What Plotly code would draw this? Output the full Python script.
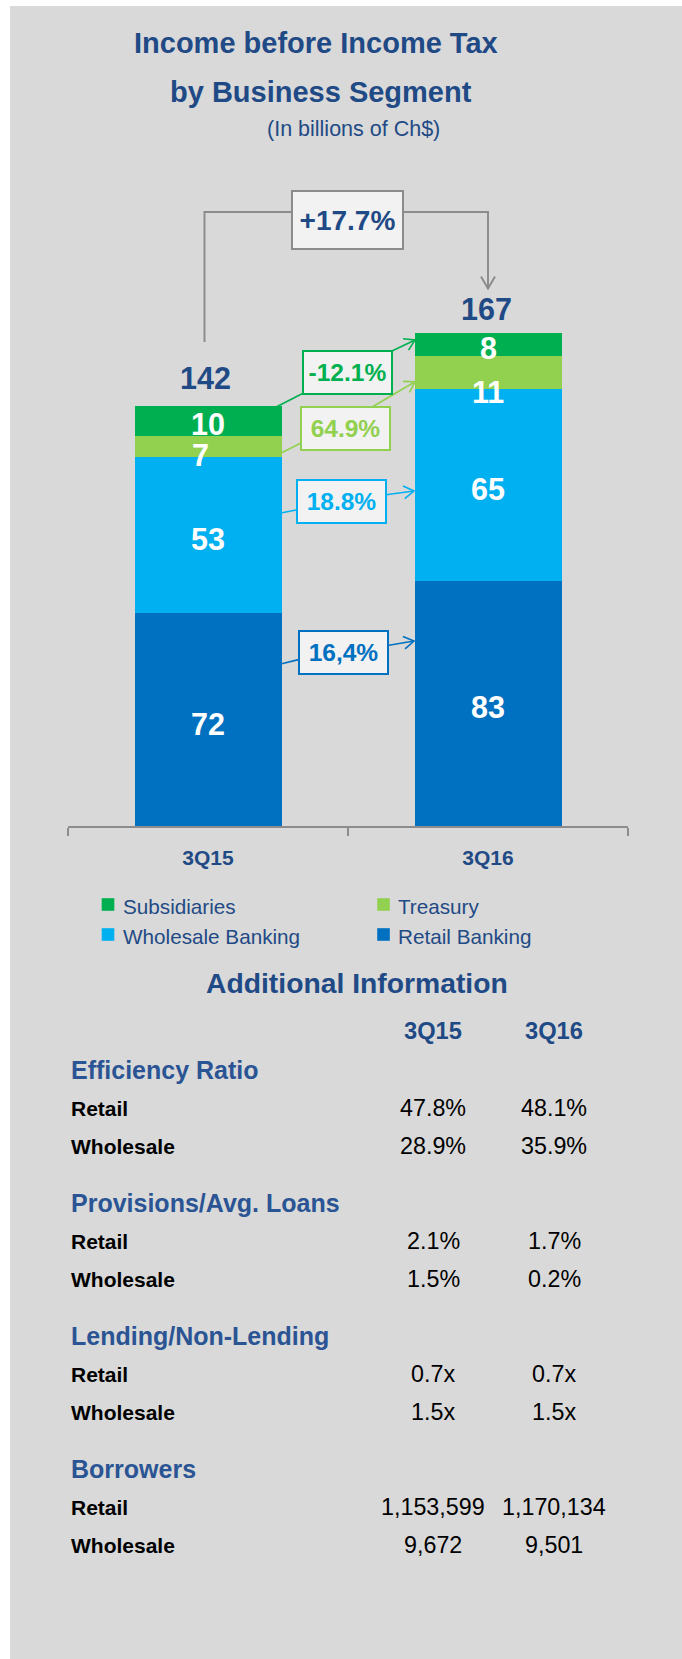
import math
import plotly.graph_objects as go

# ---------------- data ----------------
categories = ["3Q15", "3Q16"]
segment_names = ["Retail Banking", "Wholesale Banking", "Treasury", "Subsidiaries"]
retail_banking = [72, 83]
wholesale_banking = [53, 65]
treasury = [7, 11]
subsidiaries = [10, 8]
totals = [142, 167]
total_change = "+17.7%"
segment_changes = ["16,4%", "18.8%", "64.9%", "-12.1%"]  # same order as segment_names
legend_order = ["Subsidiaries", "Treasury", "Wholesale Banking", "Retail Banking"]

table_periods = ["3Q15", "3Q16"]
table_sections = ["Efficiency Ratio", "Provisions/Avg. Loans", "Lending/Non-Lending", "Borrowers"]
table_row_labels = ["Retail", "Wholesale"]
efficiency_ratio = [["47.8%", "48.1%"], ["28.9%", "35.9%"]]
provisions_avg_loans = [["2.1%", "1.7%"], ["1.5%", "0.2%"]]
lending_non_lending = [["0.7x", "0.7x"], ["1.5x", "1.5x"]]
borrowers = [["1,153,599", "1,170,134"], ["9,672", "9,501"]]

# ---------------- style ----------------
colors = {
    "Retail Banking": "#0070C0",
    "Wholesale Banking": "#00B0F0",
    "Treasury": "#92D050",
    "Subsidiaries": "#00B050",
}
NAVY = "#1F4A85"
HEAD = "#2A5494"
GRAY_BG = "#D9D9D9"
LINE_GRAY = "#8C8C8C"
FONT = "Liberation Sans, Arial, Helvetica, sans-serif"

W, H = 682, 1659
OX, OY = 0, 0  # body margin removed via post_script


def px(sx):
    return (sx - OX) / W


def py(sy):
    return 1 - (sy - OY) / H


BASE = 826      # screen y of baseline
PPU = 2.955     # pixels per unit
YMAX = 200
X_LEFT, X_RIGHT = 68, 628

series = [retail_banking, wholesale_banking, treasury, subsidiaries]

fig = go.Figure()
for name, vals in zip(segment_names, series):
    fig.add_trace(go.Bar(
        x=categories, y=vals, name=name,
        marker=dict(color=colors[name], line=dict(width=0)),
        width=0.525, showlegend=False, hoverinfo="x+y+name",
    ))

annotations = []
shapes = []

# white page border (left and top)
shapes.append(dict(type="rect", xref="paper", yref="paper", x0=0, x1=px(10),
                   y0=0, y1=1, fillcolor="white", line=dict(width=0), layer="below"))
shapes.append(dict(type="rect", xref="paper", yref="paper", x0=0, x1=1,
                   y0=py(6), y1=1, fillcolor="white", line=dict(width=0), layer="below"))

# titles
annotations.append(dict(text="Income before Income Tax", x=px(316), y=py(43), xref="paper", yref="paper",
                        showarrow=False, xanchor="center", yanchor="middle",
                        font=dict(family=FONT, size=29, color=NAVY, weight="bold")))
annotations.append(dict(text="by Business Segment", x=px(320.5), y=py(92), xref="paper", yref="paper",
                        showarrow=False, xanchor="center", yanchor="middle",
                        font=dict(family=FONT, size=29, color=NAVY, weight="bold")))
annotations.append(dict(text="(In billions of Ch$)", x=px(353), y=py(129), xref="paper", yref="paper",
                        showarrow=False, xanchor="center", yanchor="middle",
                        font=dict(family=FONT, size=21.5, color=NAVY)))

# segment value labels (inside bars)
label_shift = {("Treasury", 0): (-8, -9), ("Treasury", 1): (0, -20), ("Subsidiaries", 0): (0, -3)}
cum = [0, 0]
for name, vals in zip(segment_names, series):
    for i, v in enumerate(vals):
        mid = cum[i] + v / 2
        dx, dy = label_shift.get((name, i), (0, -4))
        annotations.append(dict(text=str(v), x=categories[i], y=mid, xref="x", yref="y",
                                showarrow=False, xanchor="center", yanchor="middle",
                                xshift=dx, yshift=dy,
                                font=dict(family=FONT, size=30.5, color="white", weight="bold")))
        cum[i] += v

# totals above bars
total_shift = [(-2.5, 28), (-1.5, 23.5)]
for i, t in enumerate(totals):
    annotations.append(dict(text=str(t), x=categories[i], y=t, xref="x", yref="y",
                            showarrow=False, xanchor="center", yanchor="middle",
                            xshift=total_shift[i][0], yshift=total_shift[i][1],
                            font=dict(family=FONT, size=30.5, color=NAVY, weight="bold")))

# total change box + connector
annotations.append(dict(text=total_change, x=px(347.3), y=py(220), xref="paper", yref="paper",
                        showarrow=False, xanchor="center", yanchor="middle",
                        width=109, height=56, borderpad=0, borderwidth=2,
                        bordercolor=LINE_GRAY, bgcolor="#F2F2F2",
                        font=dict(family=FONT, size=28, color=NAVY, weight="bold")))


def path_of(points):
    return "M " + " L ".join(f"{px(a):.6f},{py(b):.6f}" for a, b in points)


def chevron(tip, frm, length=11, half_angle=32):
    tx, ty = tip
    dx, dy = tx - frm[0], ty - frm[1]
    n = math.hypot(dx, dy)
    ux, uy = dx / n, dy / n
    pts = []
    for s in (1, -1):
        a = math.radians(half_angle) * s
        rx = ux * math.cos(a) - uy * math.sin(a)
        ry = ux * math.sin(a) + uy * math.cos(a)
        pts.append((tx - rx * length, ty - ry * length))
    return [pts[0], (tx, ty), pts[1]]


def open_path(points, color, width):
    shapes.append(dict(type="path", xref="paper", yref="paper", path=path_of(points),
                       line=dict(color=color, width=width), fillcolor="rgba(0,0,0,0)", layer="above"))


open_path([(204.5, 342), (204.5, 212), (292, 212)], LINE_GRAY, 2)
open_path([(403, 212), (488, 212), (488, 288)], LINE_GRAY, 2)
open_path(chevron((488, 288.5), (488, 212), length=14, half_angle=30), LINE_GRAY, 2)

# segment change boxes and connectors
box_geom = {
    "Subsidiaries": dict(c=(347.2, 372.5), a=((272.3, 409), (303, 393.3)), b=((392.5, 350.8), (415, 340))),
    "Treasury": dict(c=(345.7, 429), a=((280.7, 453.3), (300.5, 443.3)), b=((373, 406.5), (415, 381.7))),
    "Wholesale Banking": dict(c=(341.5, 501.3), a=((280.7, 513), (297.5, 509.8)), b=((386, 494.7), (414, 491))),
    "Retail Banking": dict(c=(343, 652.2), a=((280.7, 664), (298.5, 659.6)), b=((387.5, 645.5), (414, 641))),
}
for name, chg in zip(segment_names, segment_changes):
    g = box_geom[name]
    col = colors[name]
    open_path(list(g["a"]), col, 1.6)
    open_path(list(g["b"]), col, 1.6)
    open_path(chevron(g["b"][1], g["b"][0], length=12, half_angle=32), col, 1.6)
    annotations.append(dict(text=chg, x=px(g["c"][0]), y=py(g["c"][1]), xref="paper", yref="paper",
                            showarrow=False, xanchor="center", yanchor="middle",
                            width=87, height=41, borderpad=0, borderwidth=2,
                            bordercolor=col, bgcolor="#F2F2F2",
                            font=dict(family=FONT, size=24.5, color=col, weight="bold")))

# legend (manual, 2 x 2)
legend_pos = [(108, 904.5), (383.5, 904.5), (108, 934.5), (383.5, 934.5)]
for name, (cx, cy) in zip(legend_order, legend_pos):
    s = 6.3
    shapes.append(dict(type="rect", xref="paper", yref="paper",
                       x0=px(cx - s), x1=px(cx + s), y0=py(cy + s), y1=py(cy - s),
                       fillcolor=colors[name], line=dict(width=0)))
    annotations.append(dict(text=name, x=px(cx + 12.5), y=py(cy + 1.5), xref="paper", yref="paper",
                            showarrow=False, xanchor="left", yanchor="middle",
                            font=dict(family=FONT, size=20.7, color=NAVY)))

# additional information table
annotations.append(dict(text="Additional Information", x=px(356.5), y=py(983), xref="paper", yref="paper",
                        showarrow=False, xanchor="center", yanchor="middle",
                        font=dict(family=FONT, size=28.3, color=NAVY, weight="bold")))
col_x = [433, 554]
for p, cx in zip(table_periods, col_x):
    annotations.append(dict(text=p, x=px(cx), y=py(1031), xref="paper", yref="paper",
                            showarrow=False, xanchor="center", yanchor="middle",
                            font=dict(family=FONT, size=23.7, color=NAVY, weight="bold")))

section_values = [efficiency_ratio, provisions_avg_loans, lending_non_lending, borrowers]
for k, (sec, vals) in enumerate(zip(table_sections, section_values)):
    y0 = 1070 + k * 133
    annotations.append(dict(text=sec, x=px(68.5), y=py(y0), xref="paper", yref="paper",
                            showarrow=False, xanchor="left", yanchor="middle",
                            font=dict(family=FONT, size=25, color=HEAD, weight="bold")))
    for r, lab in enumerate(table_row_labels):
        yr = y0 + 38 + r * 38
        annotations.append(dict(text=lab, x=px(68.5), y=py(yr), xref="paper", yref="paper",
                                showarrow=False, xanchor="left", yanchor="middle",
                                font=dict(family=FONT, size=21, color="black", weight="bold")))
        for c, cx in enumerate(col_x):
            annotations.append(dict(text=vals[r][c], x=px(cx), y=py(yr), xref="paper", yref="paper",
                                    showarrow=False, xanchor="center", yanchor="middle",
                                    font=dict(family=FONT, size=23.3, color="black")))

fig.update_layout(
    width=W, height=H,
    margin=dict(l=0, r=0, t=0, b=0, pad=0, autoexpand=False),
    paper_bgcolor=GRAY_BG, plot_bgcolor="rgba(0,0,0,0)",
    barmode="stack", bargap=0,
    showlegend=False,
    xaxis=dict(domain=[px(X_LEFT), px(X_RIGHT)], range=[-0.5, 1.5], type="category",
               showline=True, linecolor=LINE_GRAY, linewidth=1.5,
               ticks="outside", tickson="boundaries", ticklen=8, tickwidth=1.5, tickcolor=LINE_GRAY,
               showgrid=False, zeroline=False, ticklabelstandoff=12,
               tickfont=dict(family=FONT, size=21, color=NAVY, weight="bold"), fixedrange=True),
    yaxis=dict(domain=[py(BASE), py(BASE - YMAX * PPU)], range=[0, YMAX], visible=False,
               showgrid=False, zeroline=False, fixedrange=True),
    annotations=annotations,
    shapes=shapes,
)

fig.write_html("out.html",
               config={"displayModeBar": False},
               post_script="document.body.style.margin='0px';document.body.style.overflow='hidden';")
